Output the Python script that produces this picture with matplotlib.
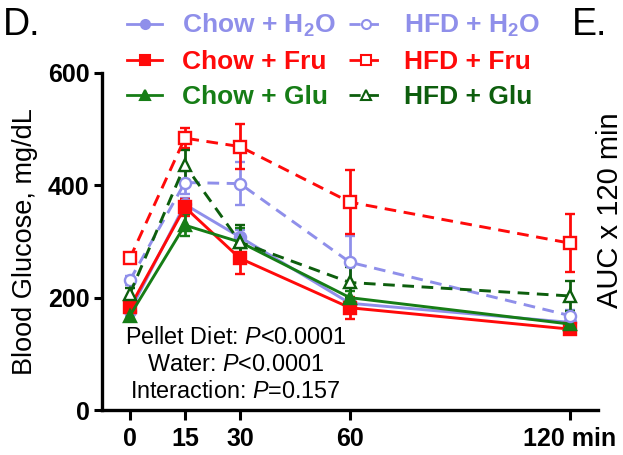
import matplotlib
matplotlib.use("Agg")
import matplotlib.pyplot as plt
from matplotlib.lines import Line2D

plt.rcParams["font.family"] = ["Liberation Sans", "DejaVu Sans"]
plt.rcParams["mathtext.fontset"] = "custom"
plt.rcParams["mathtext.rm"] = "Liberation Sans"
plt.rcParams["mathtext.it"] = "Liberation Sans:italic"
plt.rcParams["mathtext.bf"] = "Liberation Sans:bold"

# sampling times (min)
times = [0, 15, 30, 60, 120]
tick_labels = ["0", "15", "30", "60", "120 min"]

# mean blood glucose (mg/dL) and SEM
chow_h2o = [176, 366, 308, 190, 156]
chow_h2o_err = [8, 12, 12, 10, 8]
chow_fru = [183, 361, 270, 182, 144]
chow_fru_err = [8, 15, 27, 20, 8]
chow_glu = [168, 329, 299, 200, 153]
chow_glu_err = [6, 20, 25, 12, 8]
hfd_h2o = [231, 405, 403, 263, 168]
hfd_h2o_err = [8, 20, 38, 46, 10]
hfd_fru = [270, 484, 469, 370, 297]
hfd_fru_err = [8, 18, 40, 57, 52]
hfd_glu = [207, 436, 299, 227, 203]
hfd_glu_err = [10, 26, 30, 27, 26]

BLUE = "#8f8fea"
RED = "#ff0a0a"
GREEN = "#167d16"
DKGREEN = "#0d5e0d"
DASH = (0, (4, 2.6))

series = [
    ("Chow + H$_\\mathbf{2}$O", chow_h2o, chow_h2o_err, BLUE, "o", "-", True),
    ("Chow + Fru", chow_fru, chow_fru_err, RED, "s", "-", True),
    ("Chow + Glu", chow_glu, chow_glu_err, GREEN, "^", "-", True),
    ("HFD + H$_\\mathbf{2}$O", hfd_h2o, hfd_h2o_err, BLUE, "o", DASH, False),
    ("HFD + Fru", hfd_fru, hfd_fru_err, RED, "s", DASH, False),
    ("HFD + Glu", hfd_glu, hfd_glu_err, DKGREEN, "^", DASH, False),
]

fig = plt.figure(figsize=(6.23, 4.55), dpi=100)
ax = fig.add_axes([0.1637, 0.0989, 0.796, 0.7407])

handles = []
for label, y, err, color, marker, ls, filled in series:
    ax.errorbar(times, y, yerr=err, color=color, linestyle=ls, linewidth=2.1,
                marker=marker, markersize=8,
                markerfacecolor=color if filled else "white",
                markeredgecolor=color, markeredgewidth=1.7,
                elinewidth=2.0, capsize=3.6, capthick=2.0)
    handles.append(Line2D([], [], color=color, linestyle=ls, linewidth=2.0,
                          marker=marker, markersize=6.5,
                          markerfacecolor=color if filled else "white",
                          markeredgecolor=color, markeredgewidth=1.5,
                          label=label))

ax.set_xlim(-7.6, 127.6)
ax.set_ylim(0, 600)
ax.set_yticks([0, 200, 400, 600])
ax.set_xticks(times)
ax.set_xticklabels(tick_labels)
for s in ["top", "right"]:
    ax.spines[s].set_visible(False)
for s in ["left", "bottom"]:
    ax.spines[s].set_linewidth(2.4)
ax.tick_params(axis="y", width=2.2, length=6, pad=3, labelsize=18)
ax.tick_params(axis="x", width=2.2, length=7, pad=5, labelsize=18)
for t in ax.get_xticklabels() + ax.get_yticklabels():
    t.set_fontweight("bold")
ax.set_ylabel("Blood Glucose, mg/dL", fontsize=19.5, labelpad=7)

ax.text(28.8, 81, "Pellet Diet: $\\it{P}$<0.0001\nWater: $\\it{P}$<0.0001\n"
        "Interaction: $\\it{P}$=0.157", ha="center", va="center",
        fontsize=16.8, linespacing=1.22)

# legend: chow in left column, HFD in right
leg = fig.legend(handles=handles, ncol=2, loc="upper left",
                 bbox_to_anchor=(127 / 623, 1 - 12 / 455), frameon=False,
                 prop={"size": 19, "weight": "bold"}, handlelength=1.33,
                 handletextpad=0.75, columnspacing=0.5, labelspacing=0.42,
                 borderpad=0, borderaxespad=0)
for txt, h in zip(leg.get_texts(), handles):
    txt.set_color(h.get_color())

fig.text(3 / 623, 1 - 35 / 455, "D.", fontsize=27, va="baseline")
fig.text(572 / 623, 1 - 35 / 455, "E.", fontsize=27, va="baseline")
fig.text(596 / 623, 1 - 210 / 455, "AUC x 120 min", rotation=90, fontsize=21,
         ha="left", va="center")

fig.savefig("out.png", dpi=100)
